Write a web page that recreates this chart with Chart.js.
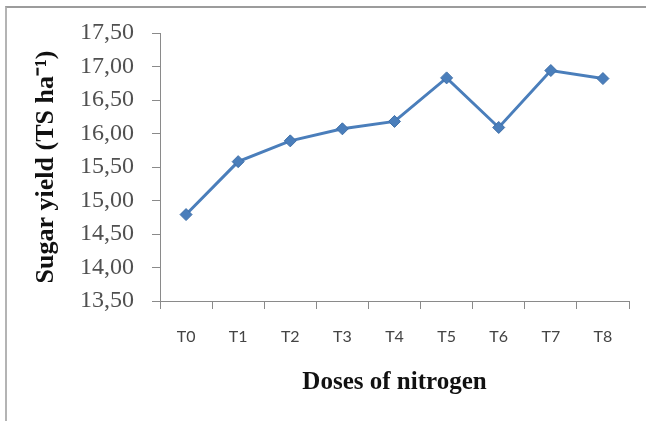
<!DOCTYPE html>
<html>
<head>
<meta charset="utf-8">
<script src="https://cdn.jsdelivr.net/npm/chart.js@4.4.1/dist/chart.umd.min.js"></script>
<style>
  html, body { margin: 0; padding: 0; background: #ffffff; }
  #wrap { position: relative; width: 646px; height: 421px; overflow: hidden; }
  #frame { position: absolute; left: 5px; top: 6px; right: 0; bottom: 0;
           border-top: 2px solid #9c9c9c; border-left: 2px solid #b4b4b4; }
  canvas { position: absolute; left: 0; top: 0; }
</style>
</head>
<body>
<div id="wrap">
  <div id="frame"></div>
  <canvas id="c" width="646" height="421"></canvas>
</div>
<script>
const categories = ["T0", "T1", "T2", "T3", "T4", "T5", "T6", "T7", "T8"];
const sugarYield = [14.79, 15.58, 15.89, 16.07, 16.18, 16.83, 16.09, 16.94, 16.82];
const yMin = 13.5;
const yMax = 17.5;
const yStep = 0.5;
const yTitle = "Sugar yield (TS ha\u207B\u00B9)";
const xTitle = "Doses of nitrogen";

const axisColor = "#8a8a8a";
const lineColor = "#4a7ebb";

new Chart(document.getElementById("c"), {
  type: "line",
  data: {
    labels: categories,
    datasets: [{
      data: sugarYield,
      borderColor: lineColor,
      backgroundColor: lineColor,
      borderWidth: 3,
      pointStyle: "rectRot",
      pointRadius: 6,
      pointHoverRadius: 6,
      pointBackgroundColor: lineColor,
      pointBorderColor: "#3f6fa8",
      pointBorderWidth: 1,
      tension: 0,
      fill: false
    }]
  },
  options: {
    responsive: false,
    animation: false,
    devicePixelRatio: 1,
    layout: { padding: { top: 33, right: 17, bottom: 0, left: 0 } },
    plugins: { legend: { display: false }, tooltip: { enabled: false } },
    scales: {
      x: {
        type: "category",
        offset: true,
        grid: {
          display: true,
          offset: true,
          drawOnChartArea: false,
          drawTicks: true,
          tickLength: 8,
          tickColor: axisColor,
          color: axisColor
        },
        border: { display: true, color: axisColor, width: 1 },
        ticks: {
          color: "#444444",
          font: { family: "Lato, 'Open Sans', sans-serif", size: 16 },
          padding: 18,
          maxRotation: 0
        },
        title: {
          display: true,
          text: xTitle,
          color: "#111111",
          font: { family: "'Liberation Serif', 'Times New Roman', serif", size: 25, weight: "bold" },
          padding: { top: 0, bottom: 23 }
        },
        afterFit: (s) => { s.height = 120; }
      },
      y: {
        min: yMin,
        max: yMax,
        grid: {
          display: true,
          drawOnChartArea: false,
          drawTicks: true,
          tickLength: 8,
          tickColor: axisColor,
          color: axisColor
        },
        border: { display: true, color: axisColor, width: 1 },
        ticks: {
          stepSize: yStep,
          color: "#505050",
          font: { family: "'Liberation Serif', 'Times New Roman', serif", size: 24 },
          padding: 18,
          callback: (v) => Number(v).toFixed(2).replace(".", ",")
        },
        title: {
          display: true,
          text: yTitle,
          color: "#111111",
          font: { family: "'Liberation Serif', 'Times New Roman', serif", size: 26, weight: "bold" },
          padding: { top: 31, bottom: 0 }
        },
        afterFit: (s) => { s.width = 160; }
      }
    }
  }
});
</script>
</body>
</html>
